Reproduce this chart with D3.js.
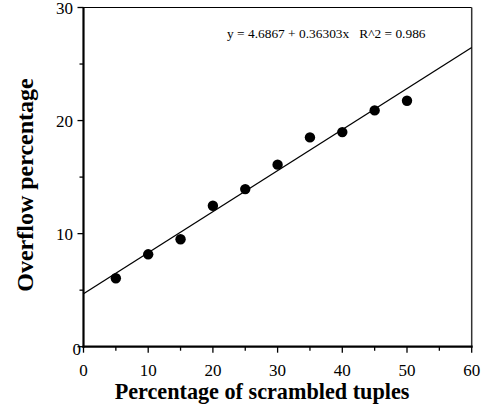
<!DOCTYPE html>
<html><head><meta charset="utf-8">
<script src="https://cdn.jsdelivr.net/npm/d3@7"></script>
<style>body{margin:0;background:#fff}svg{display:block}</style>
</head><body>
<svg id="c" width="482" height="407"></svg>
<script>
const xValues = [5, 10, 15, 20, 25, 30, 35, 40, 45, 50];
const yValues = [6.05, 8.17, 9.5, 12.47, 13.94, 16.1, 18.51, 18.98, 20.9, 21.75];
const intercept = 4.6867, slope = 0.36303;
const equationText = "y = 4.6867 + 0.36303x   R^2 = 0.986";
const xTicks = [0, 10, 20, 30, 40, 50, 60];
const yTicks = [0, 10, 20, 30];
const xTitle = "Percentage of scrambled tuples";
const yTitle = "Overflow percentage";

const svg = d3.select("#c");
const L = 83.5, R = 471.7, T = 7.5, B = 346.7;
const x = d3.scaleLinear().domain([0, 60]).range([L, R]);
const y = d3.scaleLinear().domain([0, 30]).range([B, T]);
const font = "'Liberation Serif', 'Times New Roman', serif";

// top & right frame
svg.append("line").attr("x1", L).attr("x2", R).attr("y1", T).attr("y2", T).attr("stroke", "#000").attr("stroke-width", 1.2);
svg.append("line").attr("x1", R).attr("x2", R).attr("y1", T).attr("y2", B).attr("stroke", "#333").attr("stroke-width", 1.5);

// fit line
svg.append("line")
  .attr("x1", x(0)).attr("y1", y(intercept))
  .attr("x2", x(60)).attr("y2", y(intercept + slope * 60))
  .attr("stroke", "#000").attr("stroke-width", 1.3);

// points
svg.selectAll("circle.p").data(xValues).enter().append("circle")
  .attr("cx", (d) => x(d)).attr("cy", (d, i) => y(yValues[i])).attr("r", 5.2).attr("fill", "#000");

// x axis
const xMinor = d3.range(5, 60, 10);
const gx = svg.append("g");
gx.selectAll("line.mj").data(xTicks).enter().append("line")
  .attr("x1", d => x(d)).attr("x2", d => x(d)).attr("y1", B).attr("y2", B + 6).attr("stroke", "#000").attr("stroke-width", 1.3);
gx.selectAll("line.mn").data(xMinor).enter().append("line")
  .attr("x1", d => x(d)).attr("x2", d => x(d)).attr("y1", B).attr("y2", B + 4).attr("stroke", "#000").attr("stroke-width", 1.3);
gx.selectAll("text").data(xTicks).enter().append("text")
  .attr("x", d => x(d)).attr("y", 376).attr("text-anchor", "middle")
  .attr("font-family", font).attr("font-size", 17).text(d => d);
svg.append("line").attr("x1", L - 1).attr("x2", R + 1).attr("y1", B).attr("y2", B).attr("stroke", "#000").attr("stroke-width", 2.2);

// y axis
const yMinor = [5, 15, 25];
const gy = svg.append("g");
gy.selectAll("line.mj").data(yTicks).enter().append("line")
  .attr("x1", L - 6).attr("x2", L).attr("y1", d => y(d)).attr("y2", d => y(d)).attr("stroke", "#000").attr("stroke-width", 1.3);
gy.selectAll("line.mn").data(yMinor).enter().append("line")
  .attr("x1", L - 4).attr("x2", L).attr("y1", d => y(d)).attr("y2", d => y(d)).attr("stroke", "#000").attr("stroke-width", 1.3);
gy.selectAll("text").data(yTicks).enter().append("text")
  .attr("x", d => d === 0 ? 81 : 73).attr("y", d => y(d) + (d === 0 ? 8 : 6)).attr("text-anchor", "end")
  .attr("font-family", font).attr("font-size", 17).text(d => d);
svg.append("line").attr("x1", L).attr("x2", L).attr("y1", T - 0.5).attr("y2", B + 1).attr("stroke", "#000").attr("stroke-width", 2.2);

// equation
svg.append("text").attr("x", 227).attr("y", 38).attr("font-family", font).attr("font-size", 13.4)
  .attr("xml:space", "preserve").style("white-space", "pre").text(equationText);

// titles
svg.append("text").attr("x", 262).attr("y", 399).attr("text-anchor", "middle")
  .attr("font-family", font).attr("font-size", 22.2).attr("font-weight", "bold").text(xTitle);
svg.append("text").attr("transform", "translate(33,185) rotate(-90)").attr("text-anchor", "middle")
  .attr("font-family", font).attr("font-size", 24).attr("font-weight", "bold").text(yTitle);
</script>
</body></html>
